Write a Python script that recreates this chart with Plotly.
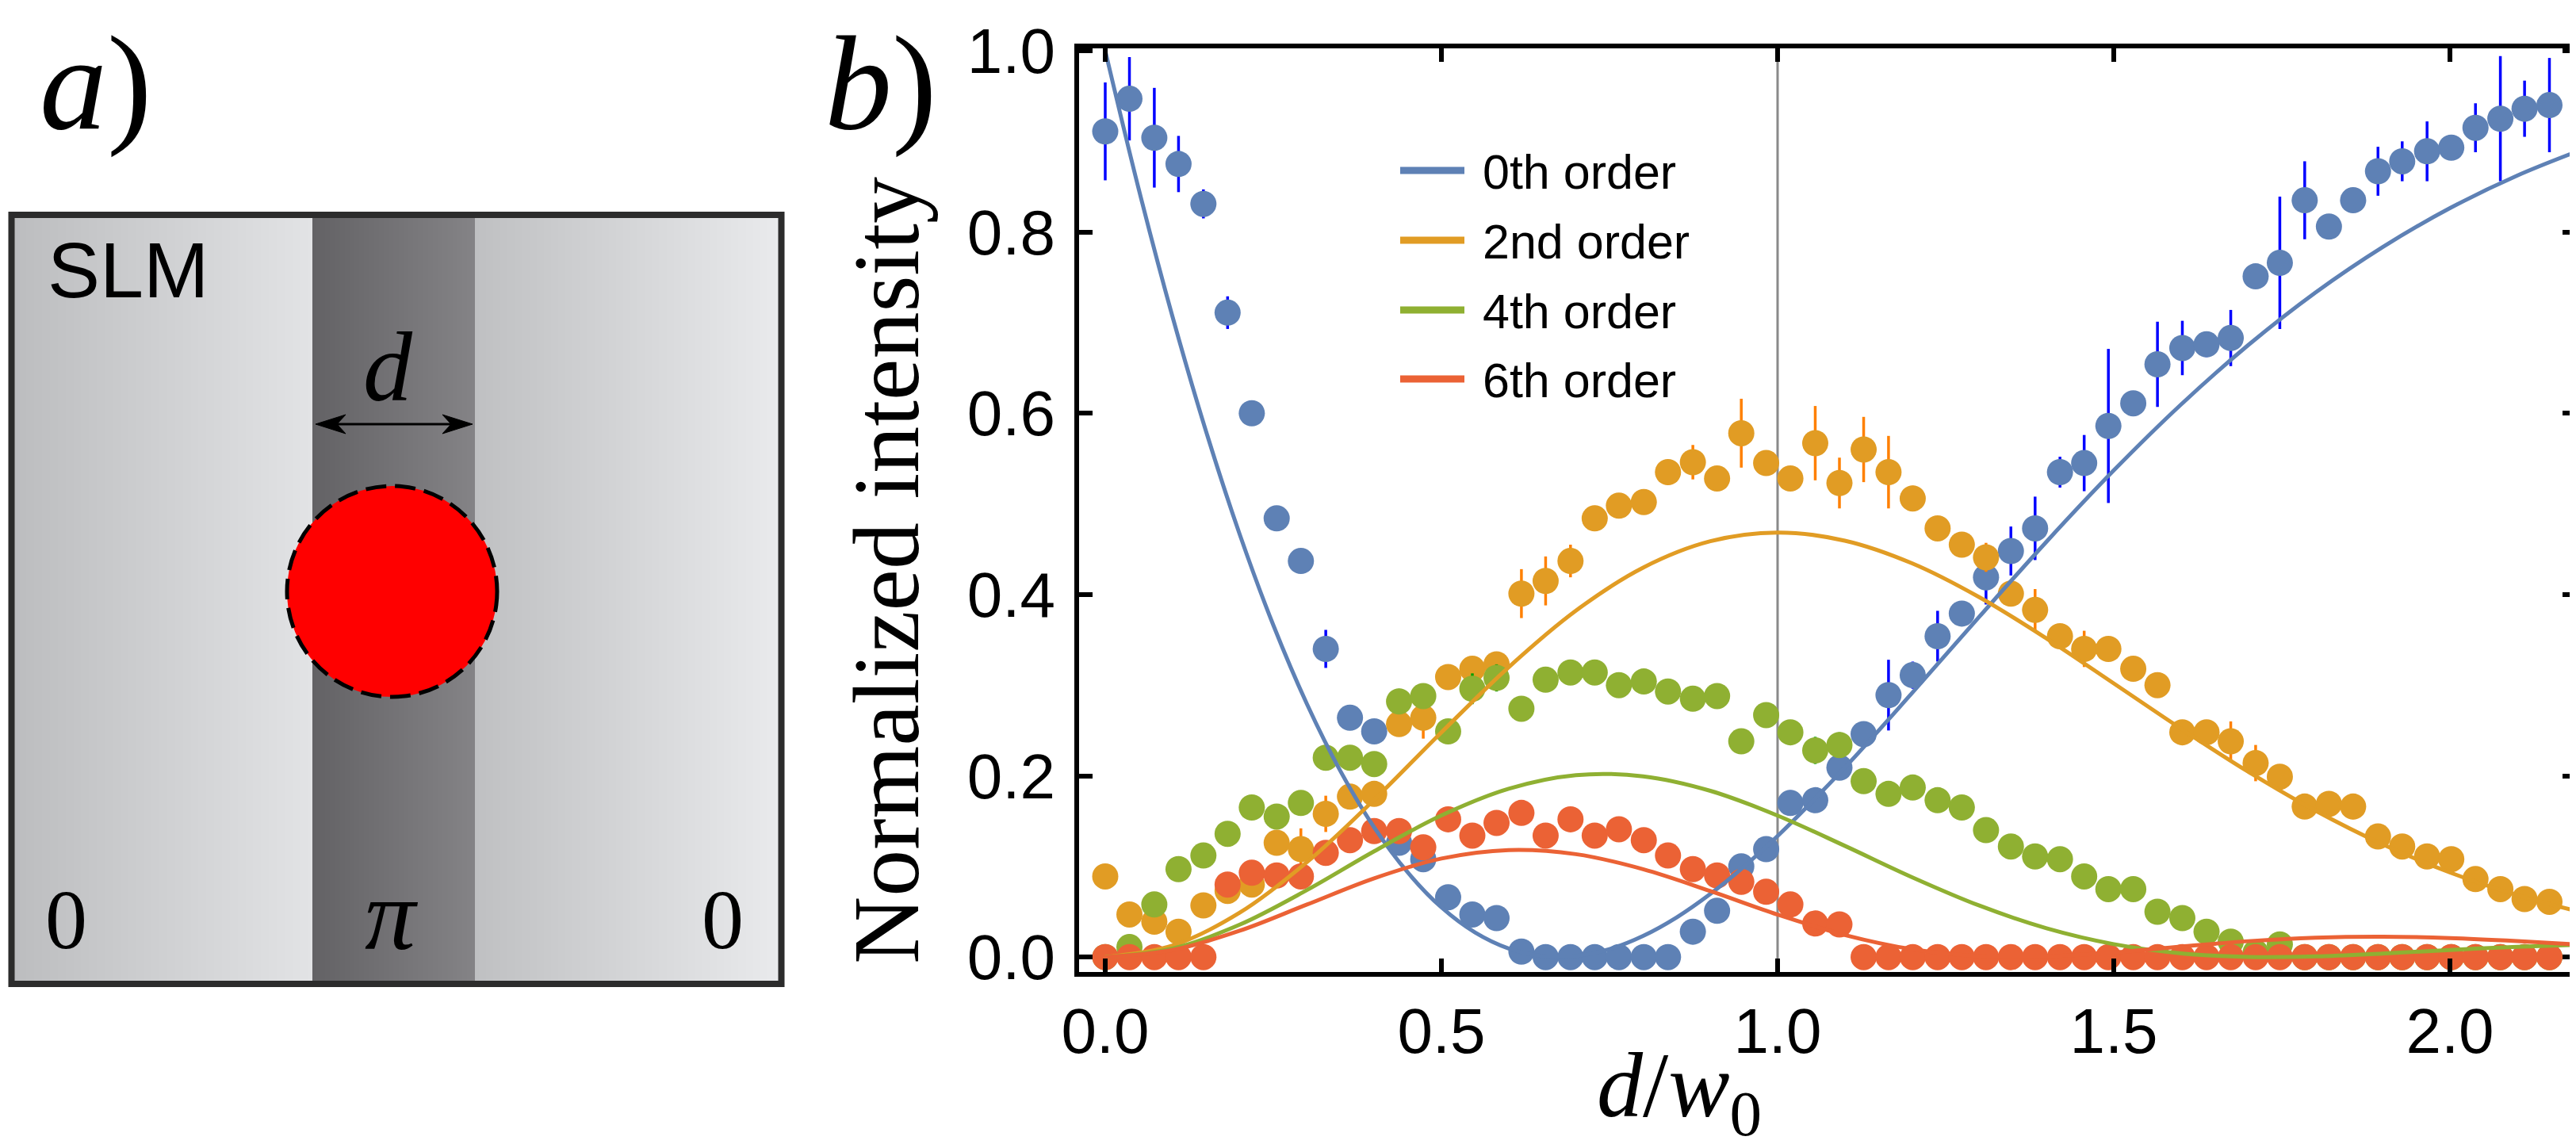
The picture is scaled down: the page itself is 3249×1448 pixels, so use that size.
import base64
import struct
import zlib

import numpy as np
import plotly.graph_objects as go

W, H = 3249, 1448

# ---------------- data ----------------
d_values = [0.000, 0.036, 0.073, 0.109, 0.146, 0.182, 0.218, 0.255, 0.291, 0.328,
            0.364, 0.400, 0.437, 0.473, 0.510, 0.546, 0.582, 0.619, 0.655, 0.692,
            0.728, 0.764, 0.801, 0.837, 0.874, 0.910, 0.946, 0.983, 1.019, 1.056,
            1.092, 1.128, 1.165, 1.201, 1.238, 1.274, 1.310, 1.347, 1.383, 1.420,
            1.456, 1.492, 1.529, 1.565, 1.602, 1.638, 1.674, 1.711, 1.747, 1.784,
            1.820, 1.856, 1.893, 1.929, 1.966, 2.002, 2.038, 2.075, 2.111, 2.148]

order0 = [0.911, 0.947, 0.904, 0.875, 0.831, 0.711, 0.600, 0.484, 0.437, 0.340,
          0.264, 0.249, 0.126, 0.108, 0.066, 0.047, 0.043, 0.006, 0.0, 0.0,
          0.0, 0.0, 0.0, 0.0, 0.028, 0.051, 0.100, 0.119, 0.170, 0.173,
          0.209, 0.246, 0.289, 0.311, 0.354, 0.379, 0.419, 0.448, 0.473, 0.535,
          0.545, 0.586, 0.611, 0.654, 0.672, 0.676, 0.683, 0.751, 0.766, 0.835,
          0.806, 0.835, 0.867, 0.878, 0.889, 0.893, 0.915, 0.925, 0.936, 0.940]
order0_err = [0.054, 0.046, 0.055, 0.031, 0.016, 0.018, 0.005, 0.006, 0.005, 0.021,
              0.007, 0.011, 0.006, 0.012, 0.005, 0.007, 0.008, 0.004, 0.003, 0.003,
              0.003, 0.003, 0.003, 0.003, 0.010, 0.005, 0.008, 0.005, 0.014, 0.006,
              0.012, 0.005, 0.039, 0.015, 0.028, 0.004, 0.030, 0.027, 0.035, 0.017,
              0.031, 0.085, 0.008, 0.047, 0.030, 0.014, 0.031, 0.005, 0.073, 0.043,
              0.005, 0.010, 0.027, 0.022, 0.033, 0.010, 0.027, 0.069, 0.031, 0.052]

order2 = [0.089, 0.047, 0.039, 0.028, 0.057, 0.073, 0.080, 0.126, 0.119, 0.158,
          0.177, 0.180, 0.257, 0.264, 0.309, 0.318, 0.323, 0.401, 0.415, 0.437,
          0.484, 0.498, 0.502, 0.535, 0.546, 0.528, 0.578, 0.545, 0.528, 0.567,
          0.523, 0.560, 0.535, 0.506, 0.473, 0.455, 0.441, 0.401, 0.383, 0.354,
          0.340, 0.340, 0.318, 0.300, 0.248, 0.248, 0.238, 0.214, 0.199, 0.166,
          0.169, 0.166, 0.133, 0.122, 0.111, 0.108, 0.086, 0.075, 0.064, 0.061]
order2_err = [0.003, 0.003, 0.005, 0.004, 0.006, 0.007, 0.008, 0.004, 0.023, 0.020,
              0.006, 0.005, 0.006, 0.023, 0.010, 0.010, 0.010, 0.027, 0.027, 0.018,
              0.014, 0.006, 0.006, 0.014, 0.019, 0.006, 0.038, 0.009, 0.007, 0.041,
              0.028, 0.036, 0.040, 0.014, 0.004, 0.012, 0.016, 0.007, 0.023, 0.005,
              0.020, 0.013, 0.013, 0.013, 0.005, 0.011, 0.022, 0.020, 0.013, 0.006,
              0.014, 0.014, 0.004, 0.013, 0.012, 0.009, 0.010, 0.003, 0.003, 0.003]

order4 = [0.0, 0.011, 0.058, 0.097, 0.112, 0.136, 0.165, 0.155, 0.170, 0.220,
          0.220, 0.213, 0.282, 0.288, 0.249, 0.296, 0.308, 0.274, 0.306, 0.314,
          0.314, 0.300, 0.304, 0.293, 0.285, 0.288, 0.238, 0.267, 0.248, 0.228,
          0.234, 0.194, 0.180, 0.187, 0.173, 0.165, 0.140, 0.122, 0.111, 0.108,
          0.089, 0.075, 0.075, 0.050, 0.043, 0.028, 0.017, 0.005, 0.014, 0.0,
          0.0, 0.0, 0.0, 0.0, 0.0, 0.0, 0.0, 0.0, 0.0, 0.0]
order4_err = [0.003, 0.014, 0.004, 0.009, 0.003, 0.010, 0.009, 0.003, 0.012, 0.011,
              0.004, 0.005, 0.014, 0.013, 0.003, 0.017, 0.015, 0.006, 0.012, 0.013,
              0.008, 0.005, 0.010, 0.005, 0.011, 0.005, 0.009, 0.004, 0.007, 0.015,
              0.014, 0.012, 0.009, 0.006, 0.010, 0.004, 0.009, 0.004, 0.007, 0.007,
              0.003, 0.002, 0.007, 0.004, 0.002, 0.003, 0.009, 0.013, 0.007, 0.003,
              0.003, 0.003, 0.003, 0.003, 0.003, 0.003, 0.003, 0.003, 0.003, 0.003]

order6 = [0.0, 0.0, 0.0, 0.0, 0.0, 0.080, 0.093, 0.090, 0.089, 0.115,
          0.129, 0.139, 0.139, 0.121, 0.152, 0.134, 0.148, 0.159, 0.134, 0.152,
          0.134, 0.141, 0.129, 0.112, 0.097, 0.090, 0.083, 0.072, 0.058, 0.037,
          0.036, 0.0, 0.0, 0.0, 0.0, 0.0, 0.0, 0.0, 0.0, 0.0,
          0.0, 0.0, 0.0, 0.0, 0.0, 0.0, 0.0, 0.0, 0.0, 0.0,
          0.0, 0.0, 0.0, 0.0, 0.0, 0.0, 0.0, 0.0, 0.0, 0.0]
order6_err = [0.003, 0.003, 0.003, 0.003, 0.003, 0.009, 0.004, 0.004, 0.004, 0.003,
              0.003, 0.007, 0.006, 0.006, 0.006, 0.007, 0.004, 0.004, 0.002, 0.006,
              0.003, 0.004, 0.005, 0.005, 0.006, 0.004, 0.003, 0.002, 0.002, 0.003,
              0.003, 0.003, 0.003, 0.003, 0.003, 0.003, 0.003, 0.003, 0.003, 0.003,
              0.003, 0.003, 0.003, 0.003, 0.003, 0.003, 0.003, 0.003, 0.003, 0.003,
              0.003, 0.003, 0.003, 0.003, 0.003, 0.003, 0.003, 0.003, 0.003, 0.003]

# theory curves
curve0_x = [0.0, 0.05, 0.1, 0.15, 0.2, 0.25, 0.3, 0.35, 0.4, 0.45, 0.5, 0.55, 0.6,
            0.65, 0.675, 0.7, 0.75, 0.8, 0.85, 0.9, 0.95, 1.0, 1.1, 1.2, 1.3, 1.4,
            1.5, 1.6, 1.7, 1.8, 1.9, 2.0, 2.1, 2.2]
curve0_y = [1.0, 0.8468, 0.7067, 0.5799, 0.4664, 0.3662, 0.2792, 0.2049, 0.1431,
            0.0933, 0.0548, 0.0271, 0.0094, 0.0010, 0.0, 0.0010, 0.0087, 0.0233,
            0.0438, 0.0696, 0.0997, 0.1335, 0.2091, 0.2913, 0.3755, 0.4583, 0.5369,
            0.6096, 0.6752, 0.7332, 0.7834, 0.8263, 0.8622, 0.8919]
curve_x = [0.0, 0.1, 0.2, 0.3, 0.4, 0.5, 0.6, 0.7, 0.8, 0.9, 1.0, 1.1, 1.2, 1.3,
           1.4, 1.5, 1.6, 1.7, 1.8, 1.9, 2.0, 2.1, 2.2]
curve2_y = [0.0, 0.0126, 0.0489, 0.1047, 0.1736, 0.2479, 0.3198, 0.3822, 0.4297,
            0.4588, 0.4684, 0.4594, 0.4344, 0.3970, 0.3515, 0.3019, 0.2520, 0.2045,
            0.1615, 0.1243, 0.0933, 0.0683, 0.0487]
curve4_y = [0.0, 0.0094, 0.0357, 0.0739, 0.1167, 0.1562, 0.1857, 0.2007, 0.1994,
            0.1834, 0.1561, 0.1227, 0.0881, 0.0568, 0.0317, 0.0142, 0.0041, 0.0002,
            0.0008, 0.0039, 0.0078, 0.0113, 0.0138]
curve6_y = [0.0, 0.0078, 0.0290, 0.0579, 0.0869, 0.1087, 0.1181, 0.1135, 0.0969,
            0.0728, 0.0468, 0.0243, 0.0086, 0.0010, 0.0006, 0.0050, 0.0115, 0.0175,
            0.0214, 0.0225, 0.0210, 0.0177, 0.0135]

legend_labels = ["0th order", "2nd order", "4th order", "6th order"]
x_ticks = [0.0, 0.5, 1.0, 1.5, 2.0]
y_ticks = [0.0, 0.2, 0.4, 0.6, 0.8, 1.0]

# ---------------- styling ----------------
mark_colors = ["#5E81B5", "#E19C24", "#8FB032", "#EB6235"]
err_colors = ["#0000FF", "#FF8000", "#00A000", "#FF0000"]
SERIF = "Liberation Serif"
SANS = "Liberation Sans"


def fx(px):
    return px / W


def fy(py):
    return 1 - py / H


# ---- panel a background gradients: a 1-row PNG stretched over the SLM area ----
def ramp(c0, c1, n):
    a = np.array(c0, float)
    b = np.array(c1, float)
    t = np.linspace(0, 1, n)[:, None]
    return (a + (b - a) * t).round().astype(np.uint8)


row = np.concatenate([
    ramp((188, 189, 191), (226, 227, 229), 376),
    ramp((99, 98, 101), (132, 131, 134), 205),
    ramp((191, 192, 194), (233, 234, 236), 383),
])


def png_data_uri(rgb_row):
    w = rgb_row.shape[0]
    raw = b"\x00" + rgb_row.tobytes()

    def chunk(tag, data):
        c = struct.pack(">I", len(data)) + tag + data
        return c + struct.pack(">I", zlib.crc32(tag + data) & 0xFFFFFFFF)

    png = (b"\x89PNG\r\n\x1a\n"
           + chunk(b"IHDR", struct.pack(">IIBBBBB", w, 1, 8, 2, 0, 0, 0))
           + chunk(b"IDAT", zlib.compress(raw, 9))
           + chunk(b"IEND", b""))
    return "data:image/png;base64," + base64.b64encode(png).decode()


fig = go.Figure()

# ---- panel b data ----
series = [(order0, order0_err), (order2, order2_err), (order4, order4_err), (order6, order6_err)]
for (vals, errs), mc, ec in zip(series, mark_colors, err_colors):
    fig.add_trace(go.Scatter(
        x=d_values, y=vals, mode="markers",
        marker=dict(size=33, color=mc, line=dict(width=0)),
        error_y=dict(type="data", array=errs, visible=True, color=ec,
                     thickness=3.5, width=0),
        showlegend=False, hoverinfo="skip"))

curves = [(curve0_x, curve0_y), (curve_x, curve2_y), (curve_x, curve4_y), (curve_x, curve6_y)]
for (cx, cy), mc in zip(curves, mark_colors):
    fig.add_trace(go.Scatter(x=cx, y=cy, mode="lines",
                             line=dict(color=mc, width=5, shape="spline"),
                             showlegend=False, hoverinfo="skip"))

shapes = []
annotations = []

# vertical reference line at d/w0 = 1
shapes.append(dict(type="line", xref="x", yref="y domain", x0=1.0, x1=1.0, y0=0, y1=1,
                   line=dict(color="#8A8A8A", width=3), layer="below"))

# custom legend
leg_y = [207, 295, 383, 470]
for lab, col, ly in zip(legend_labels, mark_colors, leg_y):
    shapes.append(dict(type="line", xref="paper", yref="paper",
                       x0=fx(1758), x1=fx(1839), y0=fy(ly), y1=fy(ly),
                       line=dict(color=col, width=9)))
    annotations.append(dict(text=lab, xref="paper", yref="paper", x=fx(1860), y=fy(ly + 2),
                            xanchor="left", yanchor="middle", showarrow=False,
                            font=dict(family=SANS, size=61, color="black")))


def ppath(points):
    parts = []
    for i, (px, py) in enumerate(points):
        parts.append(("M" if i == 0 else "L") + f" {fx(px):.6f} {fy(py):.6f}")
    return " ".join(parts) + " Z"


# panel a shapes (paper coordinates)
shapes.append(dict(type="rect", xref="paper", yref="paper",
                   x0=fx(6.5), x1=fx(977.5), y0=fy(263), y1=fy(1233),
                   line=dict(color="#2C2C2C", width=8), fillcolor="rgba(0,0,0,0)"))
shapes.append(dict(type="circle", xref="paper", yref="paper",
                   x0=fx(354), x1=fx(619), y0=fy(605), y1=fy(871),
                   fillcolor="#FF0000", line=dict(color="black", width=5, dash="26px,11px")))
shapes.append(dict(type="line", xref="paper", yref="paper",
                   x0=fx(405), x1=fx(572), y0=fy(527), y1=fy(527),
                   line=dict(color="black", width=3)))
shapes.append(dict(type="path", xref="paper", yref="paper",
                   path=ppath([(390, 527), (428, 515), (417, 527), (428, 539)]),
                   fillcolor="black", line=dict(color="black", width=1)))
shapes.append(dict(type="path", xref="paper", yref="paper",
                   path=ppath([(588, 527), (550, 515), (561, 527), (550, 539)]),
                   fillcolor="black", line=dict(color="black", width=1)))

# texts
annotations += [
    dict(text="SLM", x=fx(50), y=fy(332), xanchor="left", yanchor="middle",
         font=dict(family=SANS, size=99, color="black")),
    dict(text="0", x=fx(75), y=fy(1152), xanchor="center", yanchor="middle",
         font=dict(family=SERIF, size=106, color="black")),
    dict(text="<i>π</i>", x=fx(486), y=fy(1146), xanchor="center", yanchor="middle",
         font=dict(family=SERIF, size=128, color="black")),
    dict(text="0", x=fx(903), y=fy(1152), xanchor="center", yanchor="middle",
         font=dict(family=SERIF, size=106, color="black")),
    dict(text="<i>d</i>", x=fx(481), y=fy(456), xanchor="center", yanchor="middle",
         font=dict(family=SERIF, size=124, color="black")),
    dict(text="<i>a</i>)", x=fx(40), y=fy(1), xanchor="left", yanchor="top",
         font=dict(family=SERIF, size=170, color="black")),
    dict(text="<i>b</i>)", x=fx(1030), y=fy(1), xanchor="left", yanchor="top",
         font=dict(family=SERIF, size=170, color="black")),
    dict(text="Normalized intensity", x=fx(1110), y=fy(712), xanchor="center", yanchor="middle",
         textangle=-90, font=dict(family=SERIF, size=118, color="black")),
    dict(text="<i>d</i>/<i>w</i><sub>0</sub>", x=fx(2110), y=fy(1444), xanchor="center",
         yanchor="bottom", font=dict(family=SERIF, size=116, color="black")),
]
for a in annotations:
    a.setdefault("xref", "paper")
    a.setdefault("yref", "paper")
    a.setdefault("showarrow", False)

axis_common = dict(ticks="inside", ticklen=17, tickwidth=6, tickcolor="black",
                   showline=True, linewidth=6, linecolor="black", mirror="ticks",
                   showgrid=False, zeroline=False, automargin=False,
                   tickfont=dict(family=SANS, size=80, color="black"))

fig.update_layout(
    width=W, height=H,
    margin=dict(l=0, r=0, t=0, b=0, pad=0, autoexpand=False),
    paper_bgcolor="white", plot_bgcolor="rgba(0,0,0,0)",
    showlegend=False,
    xaxis=dict(domain=[fx(1353), fx(3241)], range=[-0.0389, 2.1875], anchor="y",
               tickvals=x_ticks, ticktext=[f"{v:.1f}" for v in x_ticks], **axis_common),
    yaxis=dict(domain=[fy(1218), fy(53)], range=[-0.0165, 1.0026], anchor="x",
               tickvals=y_ticks, ticktext=[f"{v:.1f}" for v in y_ticks],
               ticklabelstandoff=8, **axis_common),
    images=[dict(source=png_data_uri(row), xref="paper", yref="paper",
                 x=fx(10), y=fy(267), sizex=964 / W, sizey=962 / H,
                 xanchor="left", yanchor="top", sizing="stretch", layer="below")],
    shapes=shapes,
    annotations=annotations,
)

fig.write_html("out.html")
